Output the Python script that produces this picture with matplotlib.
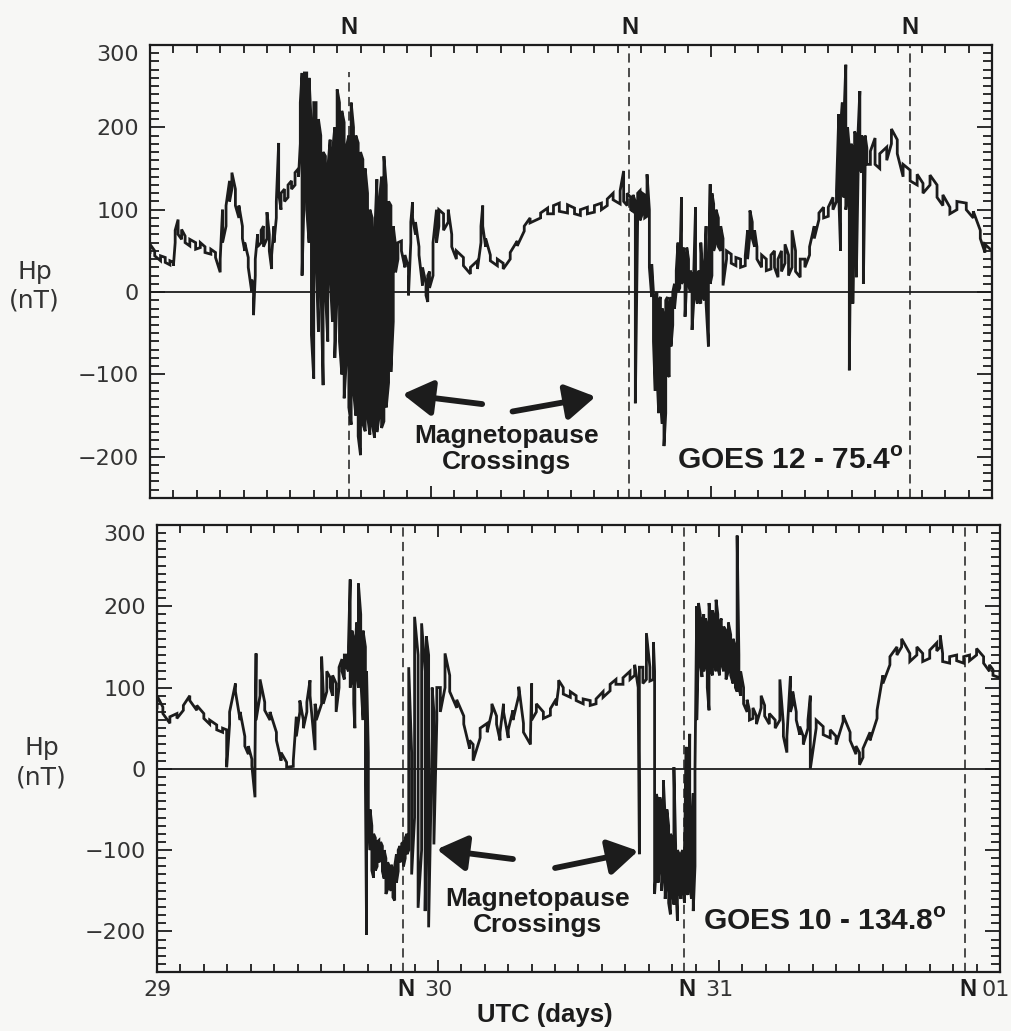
import numpy as np
import matplotlib
matplotlib.use('Agg')
import matplotlib.pyplot as plt
from matplotlib.ticker import MultipleLocator, FixedLocator

plt.rcParams['mathtext.fontset'] = 'custom'
plt.rcParams['mathtext.bf'] = 'Liberation Sans:bold'
plt.rcParams['mathtext.rm'] = 'Liberation Sans'

# hours after 29 Oct 00 UT; each sample is the (low, high) excursion of Hp in nT
g12_t = [0.0, 0.4, 0.9, 1.3, 1.7, 2.0, 2.15, 2.4, 2.7, 3.0, 3.4, 3.9, 4.3, 4.7, 5.2, 5.6,
         6.0, 6.2, 6.5, 6.8, 7.0, 7.3, 7.6, 7.9, 8.1, 8.4, 8.7, 8.85, 9.0, 9.2, 9.5, 9.7,
         10.0, 10.2, 10.4, 10.6, 10.8, 11.0, 11.2, 11.5, 11.8, 12.1, 12.4, 12.7, 12.85, 13.0,
         13.2, 13.4, 13.6, 13.8, 14.0, 14.2, 14.4, 14.6, 14.8, 15.0, 15.2, 15.4, 15.6, 15.8,
         16.0, 16.2, 16.4, 16.6, 16.8, 17.0, 17.2, 17.4, 17.6, 17.8, 18.0, 18.2, 18.4, 18.6,
         18.8, 19.0, 19.2, 19.4, 19.6, 19.8, 20.0, 20.2, 20.4, 20.6, 20.8, 21.0, 21.2, 21.5,
         21.8, 22.1, 22.3, 22.45, 22.7, 23.0, 23.3, 23.6, 23.75, 23.9, 24.2, 24.5, 24.7, 25.1,
         25.5, 25.8, 26.2, 26.8, 27.4, 28.0, 28.3, 28.45, 28.7, 29.1, 29.7, 30.2, 30.8, 31.4,
         32.0, 32.5, 33.4, 34.0, 34.5, 35.0, 35.7, 36.3, 36.8, 37.4, 38.0, 38.6, 39.1, 39.6,
         40.2, 40.5, 40.8, 41.1, 41.3, 41.5, 41.7, 41.9, 42.1, 42.3, 42.5, 42.7, 42.9, 43.05,
         43.2, 43.35, 43.5, 43.65, 43.8, 43.95, 44.1, 44.25, 44.4, 44.55, 44.7, 44.85, 45.0, 45.15,
         45.3, 45.45, 45.6, 45.75, 45.9, 46.05, 46.2, 46.35, 46.5, 46.65, 46.8, 46.95, 47.1, 47.25,
         47.4, 47.55, 47.75, 47.9, 48.05, 48.2, 48.4, 48.6, 48.8, 49.0, 49.3, 49.7, 50.1, 50.5,
         50.9, 51.1, 51.3, 51.5, 51.7, 51.9, 52.3, 52.7, 53.1, 53.4, 53.7, 54.0, 54.3, 54.6,
         54.9, 55.2, 55.6, 56.0, 56.4, 56.8, 57.2, 57.6, 58.0, 58.4, 58.7, 58.9, 59.05, 59.2,
         59.35, 59.5, 59.65, 59.8, 59.95, 60.1, 60.25, 60.4, 60.55, 60.7, 60.85, 61.0, 61.15, 61.3,
         61.6, 62.0, 62.4, 63.0, 63.4, 63.9, 64.4, 65.0, 65.6, 66.1, 66.7, 67.3, 67.8, 68.4,
         69.0, 69.8, 70.4, 71.0, 71.4, 72.0]
g12_lo = [48, 44, 38, 36, 33, 32, 60, 70, 64, 60, 56, 52, 54, 48, 46, 42,
          24, 60, 80, 110, 125, 105, 90, 65, 50, 30, 0, -28, 20, 55, 60, 55,
          65, 50, 28, 60, 90, 120, 100, 110, 115, 125, 130, 140, 180, 20,
          130, 100, 60, -52, -105, 40, -48, 20, -113, 0, -60, 20, -36, -80,
          0, -60, -100, -129, -80, -140, -161, -120, -150, -175, -198, -160, -169, -150,
          -173, -160, -177, -170, -150, -165, -157, -140, -110, -97, -36, 24, 40, 50,
          30, -4, 60, 90, 70, 45, 8, -4, -12, 5, 20, 60, 80, 75,
          85, 55, 40, 32, 22, 28, 60, 80, 55, 38, 32, 28, 40, 56,
          74, 84, 90, 95, 95, 98, 96, 95, 93, 95, 97, 100, 105, 112,
          107, 110, 105, 100, 98, -135, 90, 87, 95, 90, 92, 30, -6, -60,
          -120, -100, -147, -130, -160, -187, -147, -100, -103, -66, -40, -20, 2, 0,
          5, 10, 14, -30, 14, 10, 0, -46, -10, 0, -14, -10, -14, -5,
          -10, -14, -66, 10, 20, 50, 60, 55, 50, 8, 40, 35, 32, 30,
          32, 40, 70, 65, 55, 40, 30, 26, 28, 30, 18, 25, 35, 20,
          30, 25, 18, 30, 45, 65, 88, 90, 92, 100, 110, 115, 50, 120,
          115, 100, 115, -95, 115, -14, 143, 18, 143, 150, 145, 10, 150, 155,
          155, 155, 150, 160, 180, 168, 140, 135, 130, 120, 130, 115, 105, 95,
          100, 100, 90, 65, 48, 40]
g12_hi = [58, 50, 44, 42, 38, 36, 75, 88, 76, 68, 64, 60, 60, 55, 52, 48,
          40, 100, 105, 135, 145, 125, 105, 80, 60, 42, 15, 5, 40, 70, 75, 80,
          97, 70, 45, 80, 110, 181, 120, 125, 130, 135, 145, 150, 230, 266,
          266, 266, 260, 200, 230, 230, 210, 190, 170, 165, 150, 185, 170, 200,
          246, 230, 220, 206, 177, 190, 230, 200, 190, 181, 170, 161, 150, 120,
          100, 90, 65, 137, 110, 140, 165, 130, 110, 105, 80, 56, 60, 62,
          45, 30, 85, 109, 85, 55, 30, 10, 20, 25, 60, 100, 100, 95,
          100, 70, 50, 42, 30, 38, 80, 105, 65, 45, 40, 35, 48, 62,
          80, 90, 96, 102, 105, 108, 106, 102, 100, 103, 105, 108, 113, 120,
          123, 147, 120, 115, 118, 110, 120, 123, 120, 118, 143, 100, 34, 0,
          -6, 0, -10, -6, -20, -30, -10, -6, -20, -6, 0, 10, 26, 60,
          30, 115, 54, 40, 54, 40, 26, 20, 26, 103, 20, 26, 60, 20,
          30, 80, 20, 131, 120, 107, 100, 90, 80, 65, 50, 46, 42, 40,
          44, 75, 99, 85, 75, 55, 45, 40, 45, 50, 40, 50, 58, 45,
          75, 50, 40, 40, 55, 80, 96, 103, 103, 115, 123, 216, 200, 230,
          216, 276, 200, 175, 180, 175, 195, 190, 195, 244, 190, 185, 190, 175,
          171, 187, 168, 176, 198, 185, 155, 148, 143, 132, 142, 130, 118, 103,
          110, 108, 98, 75, 58, 50]

g10_t = [0.0, 0.5, 1.1, 1.7, 2.25, 2.8, 3.4, 4.0, 4.5, 5.1, 5.6, 5.95, 6.2, 6.7, 7.1, 7.5,
         7.8, 8.1, 8.37, 8.46, 8.8, 9.2, 9.65, 10.2, 10.6, 11.07, 11.64, 11.9, 12.2, 12.5,
         12.8, 13.07, 13.5, 13.6, 14.06, 14.2, 14.5, 14.8, 15.0, 15.3, 15.55, 15.8, 16.0, 16.2,
         16.35, 16.5, 16.65, 16.8, 16.9, 17.05, 17.2, 17.4,
         17.6, 17.8, 17.9, 18.05, 18.2, 18.35, 18.5, 18.65, 18.8, 18.95, 19.1, 19.25,
         19.4, 19.55, 19.7, 19.85, 20.0, 20.15, 20.3, 20.45, 20.6, 20.75, 20.9, 21.05, 21.2, 21.35,
         21.5, 21.75, 22.0, 22.3, 22.6, 22.9, 23.0, 23.2, 23.5, 23.65, 23.9, 24.2, 24.6, 25.0,
         25.6, 26.2, 26.7, 27.0, 27.6, 28.2, 28.6, 29.0, 29.3, 29.6, 30.0, 30.4, 30.9, 31.3,
         31.9, 32.0, 32.4, 33.0, 33.6, 34.1, 34.3, 34.7, 35.3, 35.8, 36.4, 37.0, 37.5, 38.1,
         38.7, 39.2, 39.8, 40.4, 40.8, 41.1, 41.2, 41.5, 41.8, 42.1, 42.4,
         42.5, 42.65, 42.8, 42.95, 43.1, 43.25, 43.4, 43.55, 43.7, 43.85, 44.0, 44.15, 44.3,
         44.45, 44.6, 44.75, 44.9, 45.05, 45.2, 45.35, 45.5, 45.65, 45.8, 45.95, 46.1,
         46.25, 46.4, 46.55, 46.7, 46.85, 47.0, 47.15, 47.3, 47.45, 47.6, 47.75, 47.9, 48.05, 48.2,
         48.4, 48.6, 48.8, 49.0, 49.2, 49.4, 49.55, 49.7, 49.85, 50.1, 50.4, 50.6, 50.9, 51.2,
         51.6, 51.9, 52.3, 52.8, 53.2, 53.5, 53.8, 54.1, 54.3, 54.6, 54.9, 55.2, 55.6, 55.8,
         56.3, 56.9, 57.5, 58.0, 58.6, 59.2, 59.7, 60.0, 60.3, 60.9, 61.5, 62.0, 62.6, 63.2,
         63.6, 64.3, 64.9, 65.4, 66.0, 66.6, 66.9, 67.1, 67.7, 68.3, 68.9, 69.4, 70.0, 70.6,
         71.1, 71.4, 72.0]
g10_lo = [75, 68, 56, 62, 72, 84, 72, 62, 55, 48, 45, 2, 55, 95, 60, 28,
          18, 4, -35, 60, 90, 72, 60, 35, 10, 2, 3, 40, 70, 50,
          70, 90, 23, 60, 80, 80, 95, 100, 90, 70, 100, 120, 110, 125,
          120, 100, 110, 80, 50, 120, 100, 110,
          60, -19, -204, -60, -100, -125, -134, -125, -120, -115, -110, -126,
          -135, -154, -148, -146, -150, -158, -162, -140, -126, -115, -110, -120, -110, -105,
          -100, -130, -60, -171, -100, -175, -80, -195, 40, -93, 60, 70, 100, 95,
          75, 55, 25, 10, 38, 45, 70, 55, 35, 70, 38, 60, 90, 45,
          30, 60, 70, 62, 66, 78, 100, 92, 88, 84, 80, 78, 80, 88,
          96, 104, 104, 110, 115, 90, -105, 105, 110, 108, 110,
          -154, -120, -140, -113, -150, -125, -160, -135, -165, -179, -150, -167, -140,
          -187, -150, -160, -140, -165, -150, -155, -140, -160, -175, -120, 60,
          150, 130, 113, 120, 130, 100, 72, 120, 115, 130, 120, 125, 115, 130,
          120, 110, 120, 115, 105, 100, 95, 100, 90, 80, 70, 60, 62, 55,
          75, 65, 55, 50, 60, 40, 20, 70, 80, 60, 42, 30, 50, 0,
          50, 42, 38, 30, 58, 35, 18, 5, 14, 35, 62, 105, 128, 140,
          150, 132, 140, 132, 136, 145, 150, 132, 130, 133, 130, 133, 140, 130,
          120, 115, 112]
g10_hi = [90, 76, 64, 68, 78, 90, 78, 68, 60, 54, 50, 48, 70, 105, 70, 40,
          28, 12, 15, 142, 110, 82, 70, 45, 20, 8, 10, 64, 84, 60,
          82, 109, 80, 72, 138, 95, 120, 112, 115, 105, 125, 135, 140, 140,
          150, 233, 170, 160, 140, 180, 228, 190,
          170, 150, 120, 20, -50, -70, -80, -85, -90, -88, -90, -95,
          -100, -110, -115, -120, -118, -125, -120, -105, -100, -95, -92, -90, -85, -80,
          125, 20, 187, 140, 179, 120, 163, 140, 100, 70, 100, 100, 142, 115,
          85, 65, 35, 30, 50, 56, 80, 65, 45, 80, 48, 72, 101, 56,
          40, 105, 80, 70, 74, 86, 109, 100, 95, 90, 86, 84, 86, 95,
          104, 110, 112, 120, 128, 100, 125, 125, 167, 125, 156,
          120, -31, -40, -35, -45, -14, -60, -50, -70, -80, -85, 2, -95,
          -100, -105, -105, -100, -100, 27, -95, 43, -80, -30, 0, 200,
          204, 190, 180, 190, 185, 175, 204, 180, 195, 185, 208, 190, 180, 185,
          175, 170, 180, 165, 160, 150, 287, 140, 120, 100, 85, 72, 75, 65,
          90, 78, 68, 60, 110, 55, 40, 114, 95, 70, 52, 40, 60, 90,
          60, 52, 48, 40, 66, 45, 28, 20, 25, 45, 72, 115, 138, 150,
          160, 142, 150, 142, 146, 155, 164, 142, 138, 140, 138, 140, 148, 138,
          128, 122, 120]

assert len(g12_t) == len(g12_lo) == len(g12_hi)
assert len(g10_t) == len(g10_lo) == len(g10_hi)

noon_g12 = [17, 41, 65]
noon_g10 = [21, 45, 69]
day_ticks = [0, 24, 48, 72]
day_labels = ['29', '30', '31', '01']

ink = '#1c1c1c'
paper = '#f7f7f5'
light = dict(family='DejaVu Sans', color='#333333')
bold = dict(family='Liberation Sans', fontweight='bold', color=ink)


def zigzag(t, lo, hi):
    xs, ys = [], []
    for i in range(len(t)):
        xs += [t[i], t[i]]
        ys += [lo[i], hi[i]] if i % 2 == 0 else [hi[i], lo[i]]
    return xs, ys


def setup(ax, show_x):
    ax.set_facecolor(paper)
    ax.set_xlim(0, 72)
    ax.set_ylim(-250, 300)
    ax.axhline(0, color=ink, lw=1.3, zorder=1)
    ax.xaxis.set_major_locator(FixedLocator(day_ticks))
    ax.xaxis.set_minor_locator(MultipleLocator(2))
    ax.yaxis.set_major_locator(FixedLocator([-200, -100, 0, 100, 200, 300]))
    ax.yaxis.set_minor_locator(MultipleLocator(10))
    ax.tick_params(which='both', direction='in', top=True, right=True,
                   width=1.3, color=ink, labelsize=16, labelcolor='#333333')
    ax.tick_params(axis='y', which='major', length=11, pad=8)
    ax.tick_params(axis='y', which='minor', length=6.5)
    ax.tick_params(axis='x', which='major', length=8.5, pad=6)
    ax.tick_params(axis='x', which='minor', length=5.5)
    if show_x:
        ax.set_xticklabels(day_labels[:-1] + [''])
        ax.text(1.0 + 10 / 843, -0.04, day_labels[-1], transform=ax.transAxes,
                ha='right', va='center', fontsize=16, **light)
    else:
        ax.set_xticklabels([])
    for s in ax.spines.values():
        s.set_linewidth(1.6)
        s.set_color(ink)
    ax.text(-0.137, 0.468, 'Hp\n(nT)', transform=ax.transAxes, ha='center',
            va='center', linespacing=1.25, fontsize=18, **light)


fig = plt.figure(figsize=(10.11, 10.31), dpi=100)
fig.patch.set_facecolor(paper)

ax1 = fig.add_axes([0.1484, 0.5170, 0.8328, 0.4394])
ax2 = fig.add_axes([0.1553, 0.0572, 0.8338, 0.4336])

for ax, t, lo, hi in [(ax1, g12_t, g12_lo, g12_hi), (ax2, g10_t, g10_lo, g10_hi)]:
    xs, ys = zigzag(t, lo, hi)
    ax.plot(xs, ys, color=ink, lw=2.0, zorder=3, solid_joinstyle='miter')

setup(ax1, False)
setup(ax2, True)
for ax in (ax1, ax2):
    ax.yaxis.get_major_ticks()[-1].label1.set_va('top')

# local noon markers
for i, h in enumerate(noon_g12):
    ax1.axvline(h, ymax=0.94 if i == 0 else 1, color=ink, lw=1.1,
                ls=(0, (6, 3.5)), zorder=2)
    ax1.text(h, 1.038, 'N', transform=ax1.get_xaxis_transform(), ha='center',
             va='center', fontsize=17, **bold)
for h in noon_g10:
    ax2.axvline(h, color=ink, lw=1.1, ls=(0, (6, 3.5)), zorder=2)
    ax2.text(h + 0.3, -0.04, 'N', transform=ax2.get_xaxis_transform(), ha='center',
             va='center', fontsize=17, **bold)

arrow = dict(arrowstyle='-|>,head_length=1.0,head_width=0.6', lw=4.2, color=ink,
             shrinkA=0, shrinkB=0, mutation_scale=18)
ax1.annotate('', xy=(21.6, -124), xytext=(28.4, -136), arrowprops=arrow)
ax1.annotate('', xy=(38.1, -127), xytext=(31.0, -145), arrowprops=arrow)
ax1.text(30.5, -190, 'Magnetopause\nCrossings', ha='center', va='center',
         fontsize=19, linespacing=1.1, **bold)
ax1.text(54.8, -205, r'GOES 12 - 75.4$^{\mathbf{o}}$', ha='center', va='center',
         fontsize=21.5, **bold)

ax2.annotate('', xy=(23.9, -99), xytext=(30.4, -111), arrowprops=arrow)
ax2.annotate('', xy=(41.1, -101), xytext=(34.0, -122), arrowprops=arrow)
ax2.text(32.5, -176, 'Magnetopause\nCrossings', ha='center', va='center',
         fontsize=19, linespacing=1.1, **bold)
ax2.text(57.0, -188, r'GOES 10 - 134.8$^{\mathbf{o}}$', ha='center', va='center',
         fontsize=21.5, **bold)

fig.text(0.539, 0.0155, 'UTC (days)', ha='center', va='center', fontsize=18.5, **bold)

fig.savefig('out.png', dpi=100, facecolor=paper)
